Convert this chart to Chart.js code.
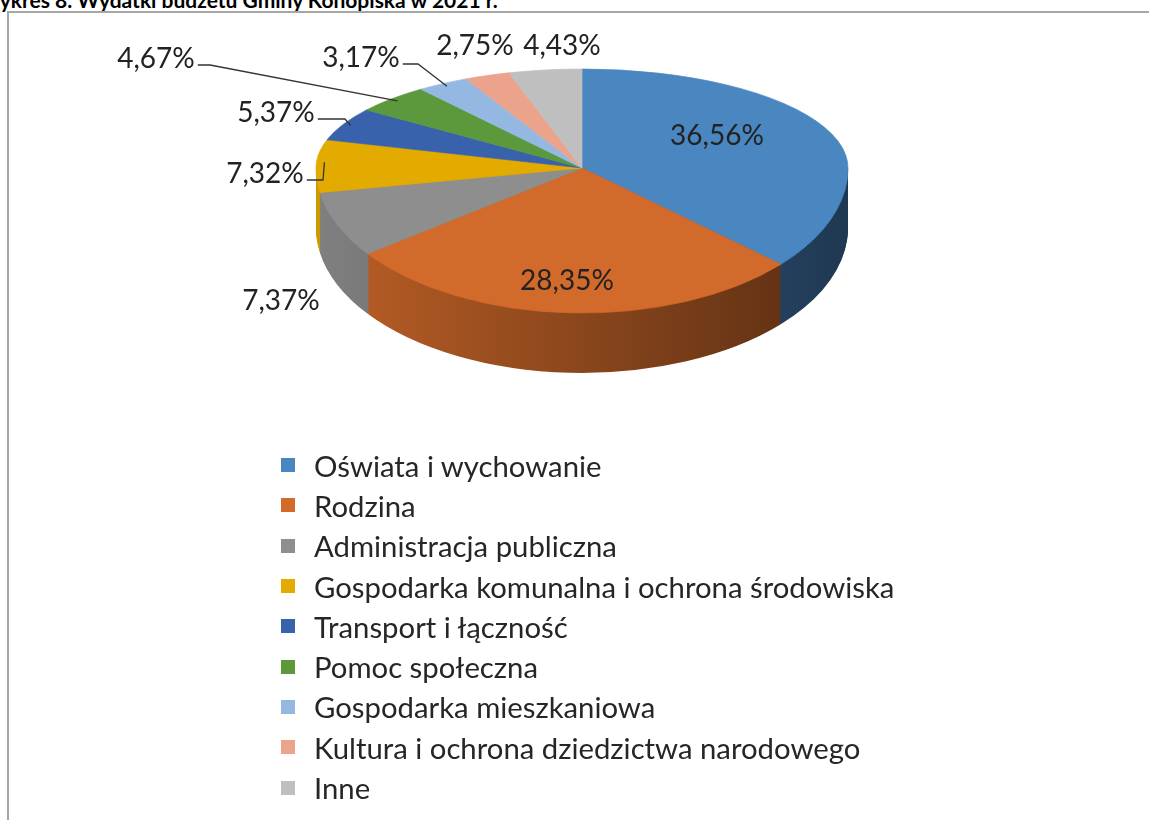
<!DOCTYPE html>
<html lang="pl">
<head>
<meta charset="utf-8">
<title>Wydatki budżetu Gminy Konopiska w 2021 r.</title>
<script src="https://cdn.jsdelivr.net/npm/chart.js@4.4.1/dist/chart.umd.min.js"></script>
<style>
  html, body { margin:0; padding:0; background:#fff; }
  body { width:1149px; height:820px; overflow:hidden; position:relative; font-family: Lato, "Open Sans", sans-serif; color:#262626; }
  #title { position:absolute; left:0; top:-11px; font-weight:bold; font-size:21px; line-height:21px; white-space:nowrap; color:#000; }
  #frame { position:absolute; left:7px; top:11px; width:1300px; height:1000px; border-left:2px solid #a6a6a6; border-top:2px solid #a6a6a6; }
  #pie { position:absolute; left:0; top:0; }
  #legend { position:absolute; left:281px; top:445px; list-style:none; margin:0; padding:0; font-size:29.3px; }
  #legend li { height:40.3px; display:flex; align-items:center; white-space:nowrap; }
  #legend i { width:14px; height:14px; margin-right:19px; flex:none; }
</style>
</head>
<body>
<div id="title"><span id="tW">W</span>ykres 8. Wydatki budżetu Gminy Konopiska w 2021 r.</div>
<div id="frame"></div>
<canvas id="pie" width="1149" height="820"></canvas>
<ul id="legend"></ul>
<script>
// data (shares in %)
const categories = [
  "Oświata i wychowanie",
  "Rodzina",
  "Administracja publiczna",
  "Gospodarka komunalna i ochrona środowiska",
  "Transport i łączność",
  "Pomoc społeczna",
  "Gospodarka mieszkaniowa",
  "Kultura i ochrona dziedzictwa narodowego",
  "Inne"
];
const shares = [36.56, 28.35, 7.37, 7.32, 5.37, 4.67, 3.17, 2.75, 4.43];
const colors = ["#4a86c0", "#d16a2a", "#8e8e8e", "#e3aa00", "#3962ad", "#5c993c", "#94b8e2", "#eca38c", "#bfbfbf"];

// where the value labels sit (text centre x, baseline y) and optional leader elbow
const labelSpots = [
  { x: 717, y: 145 },
  { x: 567, y: 290 },
  { x: 281, y: 310 },
  { x: 265, y: 183, elbow: 323 },
  { x: 276, y: 122, elbow: 345 },
  { x: 156, y: 68, elbow: 210 },
  { x: 361, y: 67, elbow: 418 },
  { x: 475, y: 55 },
  { x: 562, y: 55 }
];

// fake 3d: top half and bottom half of the disc get a different squash
const APEX_Y = 168, RY_TOP = 99, RY_BOT = 145, DEPTH = 60;

const fmt = v => v.toFixed(2).replace(".", ",") + "%";

// title: push the leading "W" off the left edge like the cropped original
document.getElementById("title").style.left = -document.getElementById("tW").offsetWidth + "px";

// legend
const ul = document.getElementById("legend");
categories.forEach((c, i) => {
  const li = document.createElement("li");
  const sw = document.createElement("i");
  sw.style.background = colors[i];
  li.append(sw, document.createTextNode(c));
  ul.append(li);
});

function shade(hex, f) {
  const n = parseInt(hex.slice(1), 16);
  const r = (n >> 16) & 255, g = (n >> 8) & 255, b = n & 255;
  return `rgb(${Math.round(r * f)},${Math.round(g * f)},${Math.round(b * f)})`;
}

function drawArcs(ctx, arcs, fills, bw) {
  arcs.forEach((arc, i) => {
    const a = Object.create(arc);
    a.options = Object.assign({}, arc.options, { backgroundColor: fills[i], borderColor: fills[i], borderWidth: bw });
    a.draw(ctx);
  });
}

function half(ctx, chart, arc, apexY, ry, upper, fn) {
  ctx.save();
  ctx.beginPath();
  if (upper) ctx.rect(0, 0, chart.width, apexY);
  else ctx.rect(0, apexY, chart.width, chart.height - apexY);
  ctx.clip();
  ctx.translate(0, apexY);
  ctx.scale(1, ry / arc.outerRadius);
  ctx.translate(0, -arc.y);
  fn();
  ctx.restore();
}

function project(arc, ang, f) {
  const dy = Math.sin(ang) * arc.outerRadius * f;
  const k = (dy < 0 ? RY_TOP : RY_BOT) / arc.outerRadius;
  return { x: arc.x + Math.cos(ang) * arc.outerRadius * f, y: APEX_Y + dy * k };
}

const pie3d = {
  id: "pie3d",
  beforeDatasetsDraw(chart) {
    const ctx = chart.ctx;
    const arcs = chart.getDatasetMeta(0).data;
    const a0 = arcs[0];
    const x0 = a0.x - a0.outerRadius, x1 = a0.x + a0.outerRadius;
    const sides = colors.map(c => {
      const g = ctx.createLinearGradient(x0, 0, x1, 0);
      g.addColorStop(0, shade(c, 0.9));
      g.addColorStop(1, shade(c, 0.42));
      return g;
    });
    for (let d = DEPTH; d >= 1; d--) {
      half(ctx, chart, a0, APEX_Y + d, RY_BOT, false, () => drawArcs(ctx, arcs, sides, 0));
    }
    half(ctx, chart, a0, APEX_Y, RY_TOP, true, () => drawArcs(ctx, arcs, colors, 1));
    half(ctx, chart, a0, APEX_Y, RY_BOT, false, () => drawArcs(ctx, arcs, colors, 1));
    return false;
  },
  afterDraw(chart) {
    const ctx = chart.ctx;
    const arcs = chart.getDatasetMeta(0).data;
    ctx.save();
    ctx.font = "28px Lato";
    ctx.fillStyle = "#222";
    ctx.textAlign = "center";
    ctx.textBaseline = "alphabetic";
    ctx.strokeStyle = "#333";
    ctx.lineWidth = 1.3;
    arcs.forEach((arc, i) => {
      const s = labelSpots[i];
      const txt = fmt(shares[i]);
      ctx.fillText(txt, s.x, s.y);
      if (s.elbow) {
        const w = ctx.measureText(txt).width;
        const end = project(arc, (arc.startAngle + arc.endAngle) / 2, 0.97);
        ctx.beginPath();
        ctx.moveTo(s.x + w / 2 + 3, s.y - 3);
        ctx.lineTo(s.elbow, s.y - 3);
        ctx.lineTo(end.x, end.y);
        ctx.stroke();
      }
    });
    ctx.restore();
  }
};

new Chart(document.getElementById("pie"), {
  type: "pie",
  data: {
    labels: categories,
    datasets: [{ data: shares, backgroundColor: colors, borderWidth: 0 }]
  },
  options: {
    responsive: false,
    animation: false,
    layout: { padding: { left: 316, right: 301, top: 0, bottom: 288 } },
    plugins: { legend: { display: false }, tooltip: { enabled: false } },
    events: []
  },
  plugins: [pie3d]
});
</script>
</body>
</html>
